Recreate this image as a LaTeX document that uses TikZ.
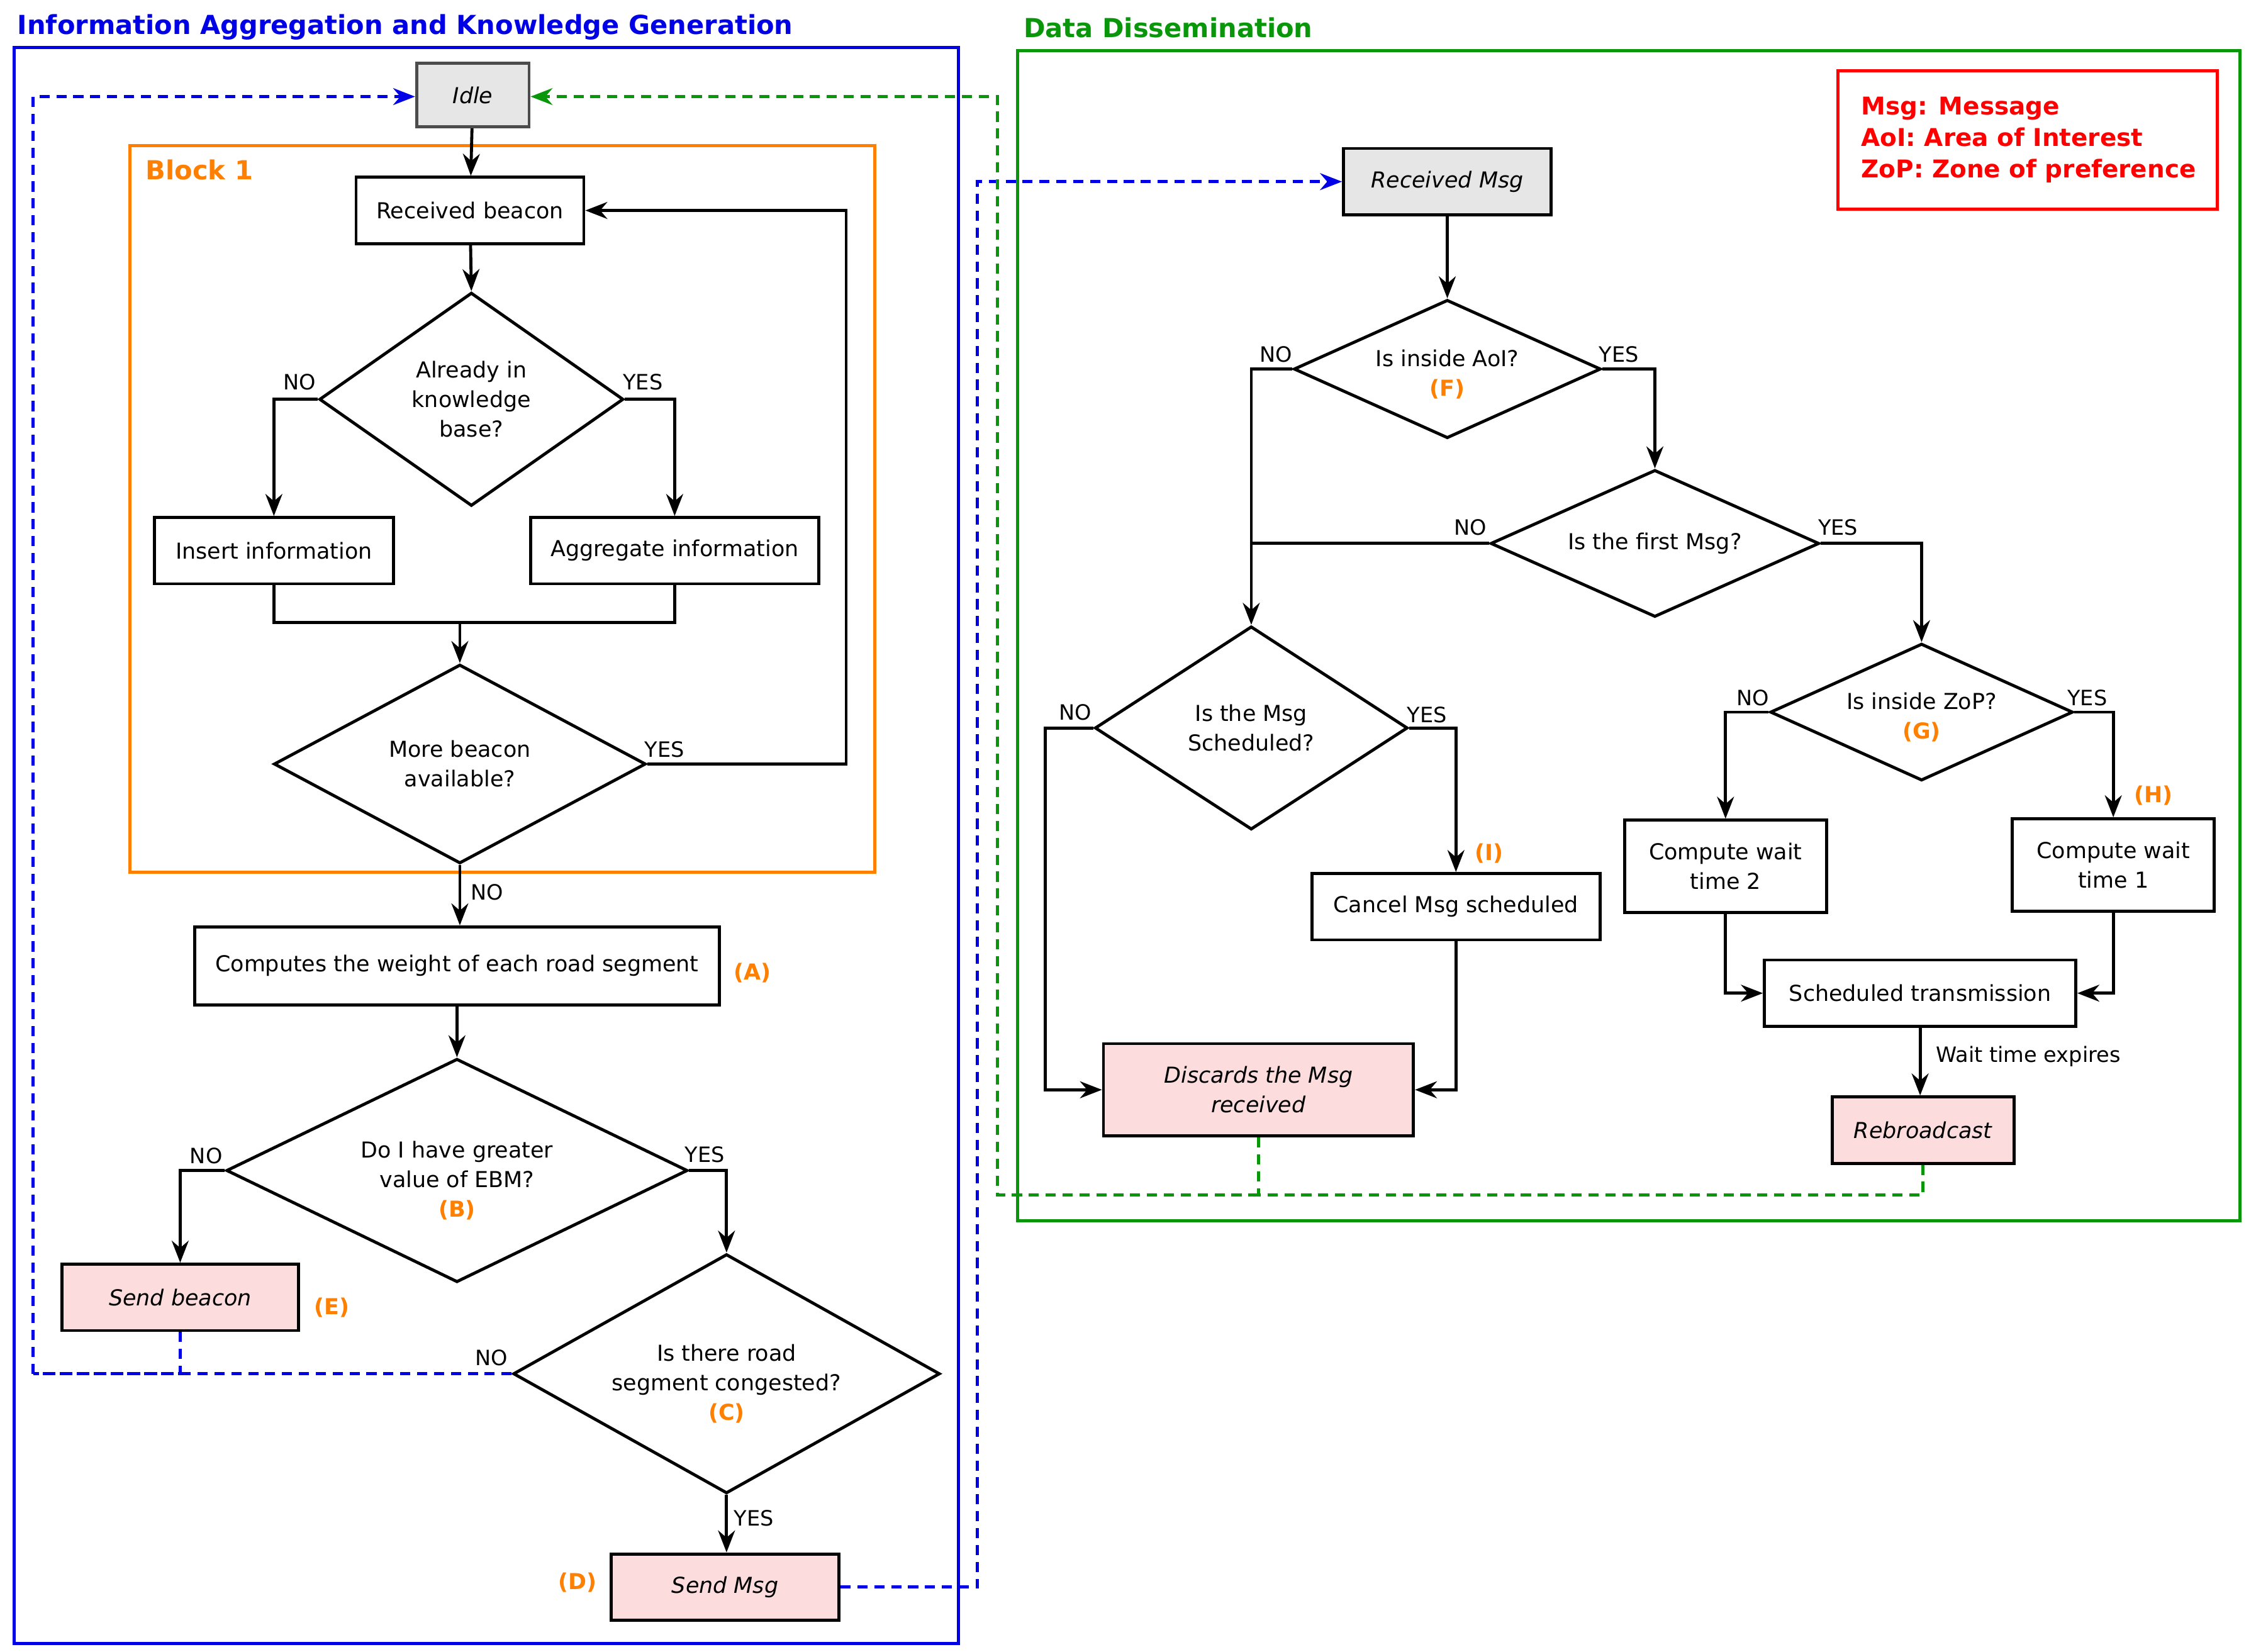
\documentclass[tikz,border=0pt]{standalone}
\usepackage{fontspec}
\setmainfont{DejaVu Sans}
\usetikzlibrary{shapes.geometric,arrows.meta}
\definecolor{orng}{RGB}{255,128,0}
\definecolor{bl}{RGB}{0,0,230}
\definecolor{gr}{RGB}{10,150,10}
\definecolor{pk}{RGB}{252,220,220}
\definecolor{gy}{RGB}{230,230,230}
\newcommand\U{0.03cm}
\newcommand\lab[1]{\textcolor{orng}{\textbf{#1}}}
\begin{document}
\begin{tikzpicture}[x=0.03cm,y=-0.03cm,
  every node/.style={font=\fontsize{13}{17.5}\selectfont},
  box/.style={draw,line width=1.8pt,align=center,inner sep=0pt},
  it/.style={font=\fontsize{13}{17.5}\selectfont\itshape},
  dia/.style={draw,diamond,line width=1.8pt,inner sep=0pt},
  ar/.style={line width=1.8pt,-{Stealth[length=13pt,width=10pt]}},
  ln/.style={line width=1.8pt},
  bd/.style={line width=1.8pt,bl,dash pattern=on 6pt off 4pt},
  gd/.style={line width=1.8pt,gr,dash pattern=on 6pt off 4pt},
  t/.style={font=\fontsize{12.5}{15}\selectfont}]
\useasboundingbox (0,0) rectangle (1565,1146);
% frames
\draw[bl,line width=1.8pt] (10,33) rectangle (665,1140);
\node[anchor=west,bl,font=\fontsize{15.5}{18}\selectfont\bfseries] at (8,19) {Information Aggregation and Knowledge Generation};
\draw[gr,line width=1.8pt] (706,35) rectangle (1554,847);
\node[anchor=west,gr,font=\fontsize{15.5}{18}\selectfont\bfseries] at (706,19) {Data Dissemination};
\draw[red,line width=1.8pt] (1275,49) rectangle (1538,145);
\node[anchor=west,red,align=left,font=\fontsize{14.5}{18.5}\selectfont\bfseries] at (1287,97) {Msg: Message\\AoI: Area of Interest\\ZoP: Zone of preference};
\draw[orng,line width=1.8pt] (90,101) rectangle (607,605);
\node[anchor=west,orng,font=\fontsize{15.5}{18}\selectfont\bfseries] at (97,118) {Block 1};
% left nodes
\node[box,it,fill=gy,draw=black!70,minimum width=78*\U,minimum height=44*\U] (idle) at (328,66) {Idle};
\node[box,minimum width=158*\U,minimum height=46*\U] (rb) at (326,146) {Received beacon};
\node[dia,minimum width=211*\U,minimum height=148*\U] (d1) at (327,277) {};
\node[align=center] at (d1) {Already in\\knowledge\\base?};
\node[box,minimum width=166*\U,minimum height=46*\U] (ins) at (190,382) {Insert information};
\node[box,minimum width=200*\U,minimum height=46*\U] (agg) at (468,382) {Aggregate information};
\node[dia,minimum width=258*\U,minimum height=138*\U] (d2) at (319,530) {};
\node[align=center] at (d2) {More beacon\\available?};
\node[box,minimum width=364*\U,minimum height=54*\U] (cw) at (317,670) {Computes the weight of each road segment};
\node[anchor=west] at (505,675) {\lab{(A)}};
\node[dia,minimum width=320*\U,minimum height=155*\U] (dB) at (317,812) {};
\node[align=center,yshift=-6pt] at (dB) {Do I have greater\\value of EBM?\\\lab{(B)}};
\node[box,it,fill=pk,minimum width=164*\U,minimum height=46*\U] (sb) at (125,900) {Send beacon};
\node[anchor=west] at (214,907) {\lab{(E)}};
\node[dia,minimum width=296*\U,minimum height=166*\U] (dC) at (504,953) {};
\node[align=center,yshift=-6pt] at (dC) {Is there road\\segment congested?\\\lab{(C)}};
\node[box,it,fill=pk,minimum width=158*\U,minimum height=46*\U] (sm) at (503,1101) {Send Msg};
\node[anchor=east] at (418,1098) {\lab{(D)}};
% right nodes
\node[box,it,fill=gy,minimum width=144*\U,minimum height=46*\U] (rm) at (1004,126) {Received Msg};
\node[dia,minimum width=213*\U,minimum height=96*\U] (dF) at (1004,256) {};
\node[align=center,yshift=-3pt] at (dF) {Is inside AoI?\\\lab{(F)}};
\node[dia,minimum width=228*\U,minimum height=102*\U] (dfm) at (1148,377) {};
\node at (dfm) {Is the first Msg?};
\node[dia,minimum width=217*\U,minimum height=141*\U] (dS) at (868,505) {};
\node[align=center] at (dS) {Is the Msg\\Scheduled?};
\node[dia,minimum width=210*\U,minimum height=95*\U] (dG) at (1333,494) {};
\node[align=center,yshift=-3pt] at (dG) {Is inside ZoP?\\\lab{(G)}};
\node[box,minimum width=140*\U,minimum height=64*\U] (cw2) at (1197,601) {Compute wait\\time 2};
\node[box,minimum width=140*\U,minimum height=64*\U] (cw1) at (1466,600) {Compute wait\\time 1};
\node at (1494,552) {\lab{(H)}};
\node[box,minimum width=200*\U,minimum height=46*\U] (cms) at (1010,629) {Cancel Msg scheduled};
\node at (1033,592) {\lab{(I)}};
\node[box,minimum width=216*\U,minimum height=46*\U] (st) at (1332,689) {Scheduled transmission};
\node[box,it,fill=pk,minimum width=215*\U,minimum height=64*\U] (dis) at (873,756) {Discards the Msg\\received};
\node[box,it,fill=pk,minimum width=126*\U,minimum height=46*\U] (rbc) at (1334,784) {Rebroadcast};
% left edges
\draw[ar] (idle) -- (rb);
\draw[ar] (rb) -- (d1.north);
\draw[ar] (d1.west) -| (ins.north);
\draw[ar] (d1.east) -| (agg.north);
\node[t] at (208,265) {NO}; \node[t] at (446,265) {YES};
\coordinate (j1) at (319,432);
\draw[ln] (ins.south) |- (j1) -| (agg.south);
\draw[ar] (j1) -- (d2.north);
\draw[ar] (d2.east) -- (587,530) |- (rb.east);
\node[t] at (461,520) {YES};
\draw[ar] (d2.south) -- (d2.south|-cw.north);
\node[t] at (338,619) {NO};
\draw[ar] (cw.south-|dB.north) -- (dB.north);
\draw[ar] (dB.west) -| (sb.north);
\node[t] at (143,802) {NO};
\draw[ar] (dB.east) -| (dC.north);
\node[t] at (489,801) {YES};
\draw[ar] (dC.south) -- (dC.south|-sm.north);
\node[t] at (523,1053) {YES};
\node[t] at (341,942) {NO};
\coordinate (bl1) at (23,953);
\draw[bd] (sb.south) |- (bl1);
\draw[bd] (dC.west) -- (bl1);
\draw[bd,-{Stealth[length=13pt,width=10pt]}] (bl1) -- (23,67) -- (idle.west|-0,67);
\draw[bd,-{Stealth[length=13pt,width=10pt]}] (sm.east) -| (678,126) -- (rm.west);
\coordinate (g1) at (873,829);
\draw[gd] (dis.south) -- (g1);
\draw[gd] (rbc.south) |- (g1);
\draw[gd,-{Stealth[length=13pt,width=10pt]}] (g1) -- (692,829) -- (692,67) -- (idle.east|-0,67);
% right edges
\draw[ar] (rm) -- (dF.north);
\draw[ar] (dF.west) -| (dS.north);
\node[t] at (885,246) {NO};
\draw[ar] (dF.east) -| (dfm.north);
\node[t] at (1123,246) {YES};
\draw[ln] (dfm.west) -- (868,377);
\node[t] at (1020,366) {NO};
\draw[ar] (dfm.east) -| (dG.north);
\node[t] at (1275,366) {YES};
\draw[ar] (dS.west) -- (725,505) |- (dis.west);
\node[t] at (746,494) {NO};
\draw[ar] (dS.east) -| (cms.north);
\node[t] at (990,496) {YES};
\draw[ar] (cms.south) |- (dis.east);
\draw[ar] (dG.west) -| (cw2.north);
\node[t] at (1216,484) {NO};
\draw[ar] (dG.east) -| (cw1.north);
\node[t] at (1448,484) {YES};
\draw[ar] (cw2.south) |- (st.west);
\draw[ar] (cw1.south) |- (st.east);
\draw[ar] (st.south) -- (st.south|-rbc.north);
\node[t,anchor=west] at (1339,733) {Wait time expires};
\end{tikzpicture}
\end{document}
